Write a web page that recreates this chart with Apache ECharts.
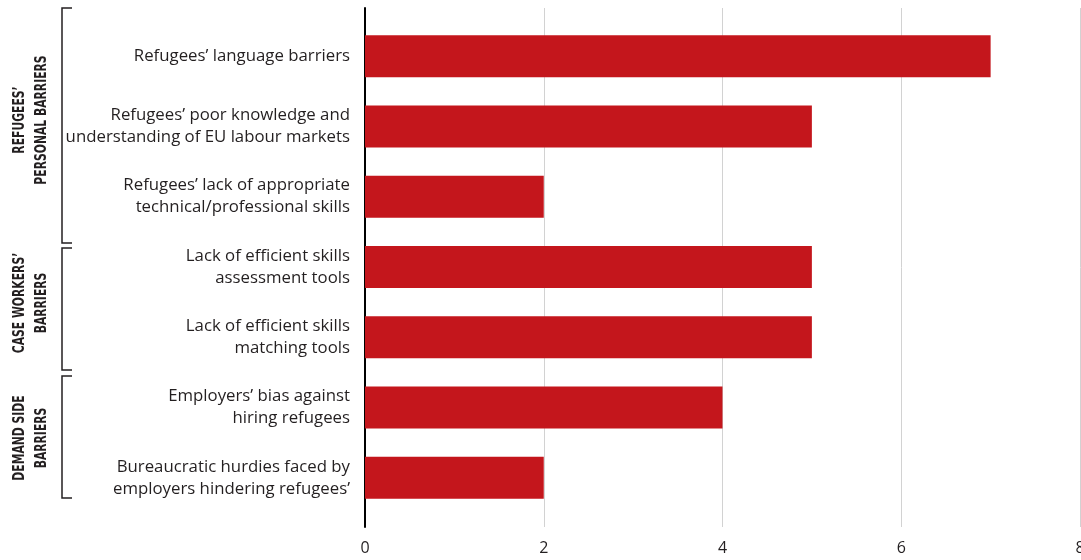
<!DOCTYPE html>
<html>
<head>
<meta charset="utf-8">
<script src="https://cdn.jsdelivr.net/npm/echarts@6/dist/echarts.min.js"></script>
<style>
  html, body { margin: 0; padding: 0; background: #fff; }
  #chart { width: 1081px; height: 560px; }
</style>
</head>
<body>
<div id="chart"></div>
<script>
// categories top to bottom
const categories = [
  'Refugees’ language barriers',
  'Refugees’ poor knowledge and\nunderstanding of EU labour markets',
  'Refugees’ lack of appropriate\ntechnical/professional skills',
  'Lack of efficient skills\nassessment tools',
  'Lack of efficient skills\nmatching tools',
  'Employers’ bias against\nhiring refugees',
  'Bureaucratic hurdies faced by\nemployers hindering refugees’'
]
const values = [7, 5, 2, 5, 5, 4, 2]
const groupNames = [
  'REFUGEES’\nPERSONAL BARRIERS',
  'CASE WORKERS’\nBARRIERS',
  'DEMAND SIDE\nBARRIERS'
]
const xMin = 0
const xMax = 8
const xStep = 2

const textColor = '#231f20'
const barColor = '#c4161c'
const font = 'Open Sans'

// bracket spans (top, bottom) and text centre for each group
const brackets = [
  { top: 8, bottom: 243, cy: 120 },
  { top: 248, bottom: 370, cy: 303 },
  { top: 376, bottom: 498, cy: 438 }
]

const chart = echarts.init(document.getElementById('chart'))

const graphic = []
brackets.forEach((b, i) => {
  graphic.push({
    type: 'polyline',
    shape: { points: [[72, b.top], [62, b.top], [62, b.bottom], [72, b.bottom]] },
    style: { stroke: textColor, lineWidth: 1.5, fill: null }
  })
  // condensed look: squeeze along the reading direction
  graphic.push({
    type: 'text',
    x: 31,
    y: b.cy,
    rotation: Math.PI / 2,
    scaleX: 0.75,
    style: {
      text: groupNames[i],
      fill: textColor,
      fontFamily: '"DejaVu Sans Condensed", Roboto, sans-serif',
      fontWeight: 'bold',
      fontSize: 16,
      lineHeight: 22,
      align: 'center',
      verticalAlign: 'middle'
    }
  })
})

chart.setOption({
  backgroundColor: '#fff',
  animation: false,
  grid: [
    { left: 365, right: 1, top: 21, bottom: 47, outerBoundsMode: 'none' },
    { left: 365, right: 1, top: 8, bottom: 33, outerBoundsMode: 'none' }
  ],
  xAxis: [
    { gridIndex: 0, type: 'value', min: xMin, max: xMax, show: false },
    {
      gridIndex: 1,
      type: 'value',
      min: xMin,
      max: xMax,
      interval: xStep,
      axisLine: { show: false },
      axisTick: { show: false },
      axisLabel: { margin: 13, fontSize: 16, color: textColor, fontFamily: font },
      splitLine: { lineStyle: { color: '#d2d2d2', width: 1 } }
    }
  ],
  yAxis: [
    {
      gridIndex: 0,
      type: 'category',
      inverse: true,
      data: categories,
      axisLine: { show: false },
      axisTick: { show: false },
      axisLabel: {
        margin: 15,
        fontSize: 16.8,
        lineHeight: 22,
        color: textColor,
        fontFamily: font,
        align: 'right'
      }
    },
    {
      gridIndex: 1,
      type: 'value',
      axisLine: { show: true, lineStyle: { color: '#000', width: 2 } },
      axisTick: { show: false },
      axisLabel: { show: false },
      splitLine: { show: false }
    }
  ],
  graphic: graphic,
  series: [{
    type: 'bar',
    xAxisIndex: 0,
    yAxisIndex: 0,
    data: values,
    barWidth: 42,
    itemStyle: { color: barColor },
    z: 3
  }]
})
</script>
</body>
</html>
